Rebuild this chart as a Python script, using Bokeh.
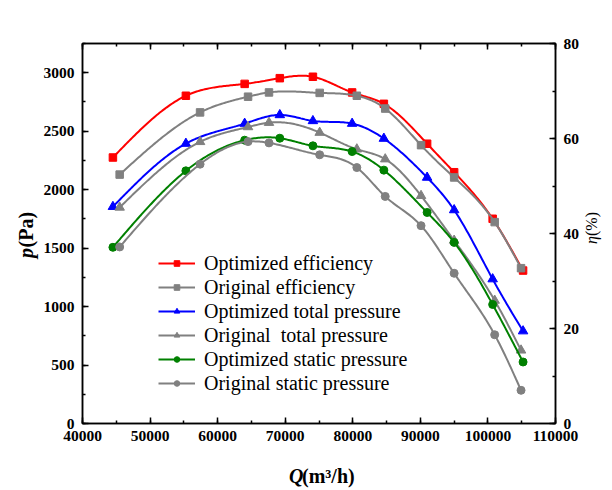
import numpy as np
from bokeh.plotting import figure
from bokeh.layouts import row, column
from bokeh.models import (LinearAxis, Range1d, SingleIntervalTicker, Legend, LegendItem,
                          NumeralTickFormatter, CustomLabelingPolicy)
from bokeh.core.properties import value
from bokeh.embed import file_html
from bokeh.resources import INLINE

# ---------------- data ----------------
Q_opt = [44500, 55300, 64000, 69200, 74100, 79900, 84600, 91000, 95000, 100700, 105200]
Q_orig = [45500, 57400, 64500, 67600, 75100, 80600, 84800, 90100, 95000, 101000, 104900]

eff_opt = [56.0, 69.0, 71.5, 72.7, 73.0, 69.7, 67.3, 58.9, 52.9, 43.1, 32.2]
eff_orig = [52.4, 65.5, 68.8, 69.7, 69.6, 69.0, 66.3, 58.6, 51.8, 42.4, 32.7]
ptot_opt = [1854, 2394, 2565, 2639, 2588, 2565, 2437, 2104, 1826, 1235, 790]
ptot_orig = [1848, 2409, 2536, 2573, 2488, 2346, 2261, 1948, 1565, 1052, 626]
pst_opt = [1507, 2161, 2423, 2440, 2375, 2326, 2167, 1805, 1549, 1018, 526]
pst_orig = [1510, 2218, 2411, 2400, 2298, 2189, 1942, 1692, 1285, 759, 284]

labels = ["Optimized efficiency", "Original efficiency", "Optimized total pressure",
          "Original  total pressure", "Optimized static pressure", "Original static pressure"]

FONT = "Liberation Serif"


def spline(x, y, n=300):
    x = np.asarray(x, float)
    y = np.asarray(y, float)
    N = len(x)
    h = np.diff(x)
    A = np.zeros((N, N))
    b = np.zeros(N)
    A[0, 0] = 1
    A[-1, -1] = 1
    for i in range(1, N - 1):
        A[i, i - 1] = h[i - 1]
        A[i, i] = 2 * (h[i - 1] + h[i])
        A[i, i + 1] = h[i]
        b[i] = 3 * ((y[i + 1] - y[i]) / h[i] - (y[i] - y[i - 1]) / h[i - 1])
    c = np.linalg.solve(A, b)
    bb = (y[1:] - y[:-1]) / h - h * (2 * c[:-1] + c[1:]) / 3
    d = (c[1:] - c[:-1]) / (3 * h)
    xs = np.linspace(x[0], x[-1], n)
    idx = np.clip(np.searchsorted(x, xs) - 1, 0, N - 2)
    dx = xs - x[idx]
    ys = y[idx] + bb[idx] * dx + c[idx] * dx ** 2 + d[idx] * dx ** 3
    return xs, ys


LEFT_W, RIGHT_W, BOTTOM_H = 40, 29, 32
MAIN_W = 612 - LEFT_W - RIGHT_W
MAIN_H = 490 - BOTTOM_H

p = figure(width=MAIN_W, height=MAIN_H, output_backend="svg", toolbar_location=None,
           x_range=Range1d(40000, 110000), y_range=Range1d(0, 3250),
           min_border_left=42, min_border_right=28, min_border_top=43, min_border_bottom=35)
p.extra_y_ranges = {"eta": Range1d(0, 80)}
p.xgrid.visible = False
p.ygrid.visible = False
p.outline_line_color = "black"
p.outline_line_width = 1.5
p.background_fill_color = "white"
p.border_fill_color = "white"


def style_axis(ax, show_labels=True):
    ax.axis_line_color = "black"
    ax.axis_line_width = 1.5
    ax.major_tick_line_color = "black"
    ax.minor_tick_line_color = "black"
    ax.major_tick_line_width = 1.5
    ax.minor_tick_line_width = 1.5
    ax.major_tick_in = 6
    ax.major_tick_out = 0
    ax.minor_tick_in = 3
    ax.minor_tick_out = 0
    ax.major_label_text_font = FONT
    ax.major_label_text_font_style = "bold"
    ax.major_label_text_font_size = "15.5px"
    ax.major_label_text_color = "black"
    ax.major_label_standoff = 8
    if not show_labels:
        ax.major_label_policy = CustomLabelingPolicy(
            code="for (const i of indices) indices.unset(i); return indices")
        ax.major_label_standoff = 0


p.xaxis.ticker = SingleIntervalTicker(interval=10000, num_minor_ticks=2)
p.xaxis.formatter = NumeralTickFormatter(format="0")
p.yaxis.ticker = SingleIntervalTicker(interval=500, num_minor_ticks=2)
style_axis(p.xaxis[0])
style_axis(p.yaxis[0])
p.xaxis.major_label_standoff = 7

right = LinearAxis(y_range_name="eta", ticker=SingleIntervalTicker(interval=20, num_minor_ticks=2))
style_axis(right)
p.add_layout(right, "right")
top = LinearAxis(ticker=SingleIntervalTicker(interval=10000, num_minor_ticks=2),
                 formatter=NumeralTickFormatter(format="0"))
style_axis(top, show_labels=False)
p.add_layout(top, "above")

series = [
    (Q_opt, eff_opt, "#FF0000", "square", 7.5, "eta"),
    (Q_orig, eff_orig, "#808080", "square", 7.5, "eta"),
    (Q_opt, ptot_opt, "#0000FF", "triangle", 9.5, "default"),
    (Q_orig, ptot_orig, "#808080", "triangle", 9.5, "default"),
    (Q_opt, pst_opt, "#008000", "circle", 8, "default"),
    (Q_orig, pst_orig, "#808080", "circle", 8, "default"),
]

items = []
for (qx, vy, col, mk, sz, rng), lab in zip(series, labels):
    xs, ys = spline(qx, vy)
    lr = p.line(xs, ys, line_color=col, line_width=2, y_range_name=rng)
    sr = p.scatter(qx, vy, marker=mk, size=sz, fill_color=col, line_color=col, y_range_name=rng)
    items.append(LegendItem(label=lab, renderers=[lr, sr]))

legend = Legend(items=items, location=(76, 28), orientation="vertical",
                glyph_width=37, glyph_height=14, label_height=24, spacing=0,
                label_standoff=9, padding=0, margin=0,
                border_line_color=None, background_fill_alpha=0,
                label_text_font=FONT, label_text_font_size="20px",
                label_text_color="black")
p.add_layout(legend, "center")


def text_fig(w, h):
    f = figure(width=w, height=h, output_backend="svg", toolbar_location=None,
               x_range=Range1d(0, w), y_range=Range1d(h, 0),
               x_axis_type=None, y_axis_type=None,
               min_border=0, min_border_left=0, min_border_right=0,
               min_border_top=0, min_border_bottom=0)
    f.xgrid.visible = False
    f.ygrid.visible = False
    f.outline_line_color = None
    f.background_fill_color = "white"
    f.border_fill_color = "white"
    return f


ang = np.pi / 2
# left title: p(Pa)
lf = text_fig(LEFT_W, 490)
lf.text(x=[25], y=[257.5], text=["p"], angle=ang, text_align="left", text_baseline="middle",
        text_font=value(FONT), text_font_style="bold italic", text_font_size="20px",
        text_color="black")
lf.text(x=[25], y=[247], text=["(Pa)"], angle=ang, text_align="left", text_baseline="middle",
        text_font=value(FONT), text_font_style="bold", text_font_size="20px",
        text_color="black")

# right title: η(%)
rf = text_fig(RIGHT_W, 490)
rx = 591 - (612 - RIGHT_W)
rf.text(x=[rx], y=[243.5], text=["η"], angle=ang, text_align="left", text_baseline="middle",
        text_font=value(FONT), text_font_style="italic", text_font_size="16px",
        text_color="black")
rf.text(x=[rx], y=[235.5], text=["(%)"], angle=ang, text_align="left", text_baseline="middle",
        text_font=value(FONT), text_font_style="normal", text_font_size="16px",
        text_color="black")

# bottom title: Q(m³/h)
bf = text_fig(MAIN_W, BOTTOM_H)
by = 475 - MAIN_H
bf.text(x=[277 - LEFT_W], y=[by], text=["Q"], text_align="left", text_baseline="middle",
        text_font=value(FONT), text_font_style="bold italic", text_font_size="20px",
        text_color="black")
bf.text(x=[292 - LEFT_W], y=[by], text=["(m³/h)"], text_align="left", text_baseline="middle",
        text_font=value(FONT), text_font_style="bold", text_font_size="20px",
        text_color="black")

layout = row(lf, column(p, bf, spacing=0), rf, spacing=0)

open("out.html", "w").write(file_html(layout, INLINE))
